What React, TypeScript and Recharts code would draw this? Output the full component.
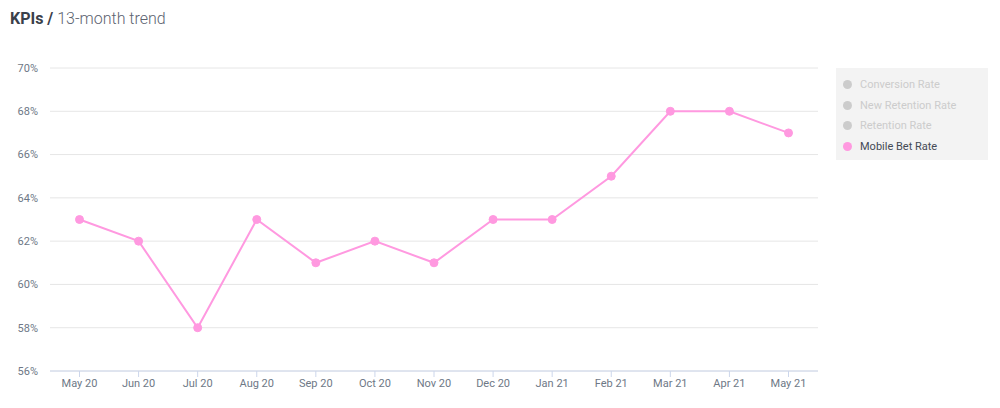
import React from 'react';
import { LineChart, Line, XAxis, YAxis, CartesianGrid } from 'recharts';

// months on the x axis
const months = ['May 20', 'Jun 20', 'Jul 20', 'Aug 20', 'Sep 20', 'Oct 20', 'Nov 20', 'Dec 20', 'Jan 21', 'Feb 21', 'Mar 21', 'Apr 21', 'May 21'];
// mobile bet rate, in percent
const mobileBetRate = [63, 62, 58, 63, 61, 62, 61, 63, 63, 65, 68, 68, 67];
const yTicks = [56, 58, 60, 62, 64, 66, 68, 70];
// legend entries; only one series is switched on
const legendNames = ['Conversion Rate', 'New Retention Rate', 'Retention Rate', 'Mobile Bet Rate'];
const legendActive = [false, false, false, true];

const data = months.map((m, i) => ({ month: m, mobile: mobileBetRate[i] }));

const PINK = '#ff99e0';
const TICK = '#6e7886';
const FONT = 'Roboto, "Noto Sans", sans-serif';

const KpiLegend = () => (
  <div style={{ position: 'absolute', left: 836, top: 68, background: '#f3f3f3', width: 152, height: 92, paddingTop: 6, boxSizing: 'border-box' }}>
    {legendNames.map((name, i) => (
      <div key={name} style={{ display: 'flex', alignItems: 'center', height: 20.7, paddingLeft: 7 }}>
        <span style={{ width: 9, height: 9, borderRadius: '50%', background: legendActive[i] ? PINK : '#cccccc', marginRight: 8 }} />
        <span style={{ fontSize: 11, color: legendActive[i] ? '#444a55' : '#cccccc', fontFamily: FONT }}>{name}</span>
      </div>
    ))}
  </div>
);

const App: React.FC = () => {
  return (
    <div style={{ position: 'absolute', left: 0, top: 0, width: 1000, height: 408, background: '#fff', fontFamily: FONT }}>
      <div style={{ position: 'absolute', left: 10, top: 9, fontSize: 16, color: '#5c6370', whiteSpace: 'nowrap', fontWeight: 300 }}>
        <span style={{ fontWeight: 700, color: '#3a404a' }}>KPIs /</span> 13-month trend
      </div>
      <LineChart width={1000} height={408} data={data} margin={{ top: 68, right: 182, left: 0, bottom: 7 }}>
        <CartesianGrid vertical={false} stroke="#e6e6e6" />
        <XAxis
          dataKey="month"
          padding={{ left: 29.5, right: 29.5 }}
          axisLine={{ stroke: '#ccd6eb' }}
          tickLine={{ stroke: '#ccd6eb' }}
          tickSize={6}
          tick={{ fontSize: 11, fill: TICK, fontFamily: FONT }}
          height={30}
          interval={0}
        />
        <YAxis
          domain={[56, 70]}
          ticks={yTicks}
          tickFormatter={(v: number) => `${v}%`}
          axisLine={false}
          tickLine={false}
          tickMargin={6}
          width={50}
          tick={{ fontSize: 11, fill: TICK, fontFamily: FONT }}
        />
        <Line
          type="linear"
          dataKey="mobile"
          stroke={PINK}
          strokeWidth={2}
          dot={{ r: 4, fill: PINK, stroke: PINK, strokeWidth: 1 }}
          activeDot={false}
          isAnimationActive={false}
        />
      </LineChart>
      <KpiLegend />
    </div>
  );
};

export default App;
